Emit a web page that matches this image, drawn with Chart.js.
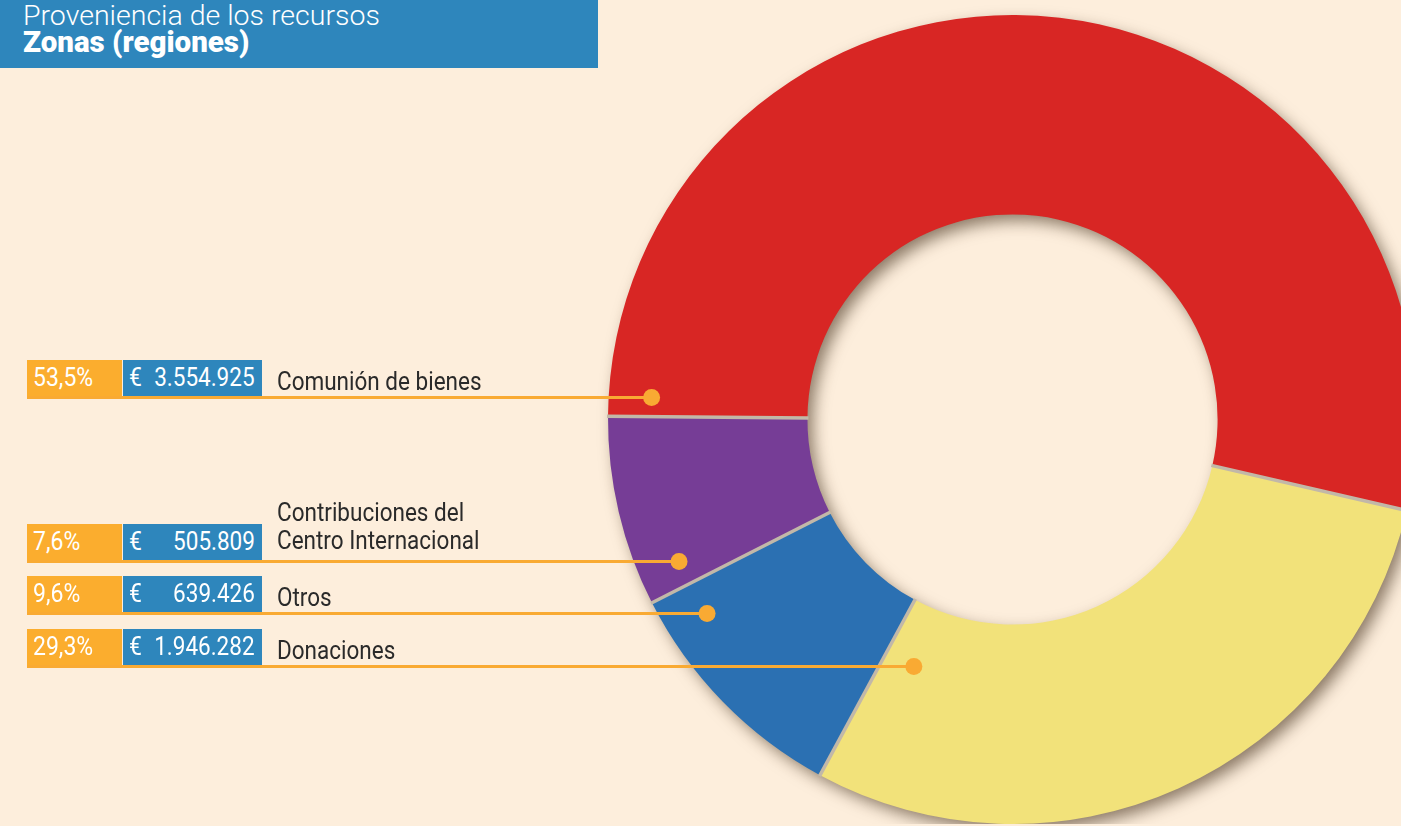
<!DOCTYPE html>
<html lang="es">
<head>
<meta charset="utf-8">
<script src="https://cdn.jsdelivr.net/npm/chart.js@4"></script>
<style>
  html, body { margin:0; padding:0; width:1401px; height:826px; overflow:hidden; background:#FDEEDC; font-family: Roboto, "Noto Sans", sans-serif; }
  #wrap { position:absolute; left:0; top:0; width:1417px; height:824px; }
  #title { position:absolute; left:0; top:0; width:598px; height:68px; background:#2E86BC; color:#fff; z-index:3; }
  #title .t1 { position:absolute; left:23px; top:2px; font-size:28.5px; line-height:28px; font-weight:300; white-space:nowrap; }
  #title .t2 { position:absolute; left:23px; top:28px; font-size:29.5px; line-height:29px; font-weight:900; white-space:nowrap; }
  .row { position:absolute; left:27px; height:36px; width:480px; z-index:3; }
  .pct { position:absolute; left:0; top:0; width:95px; height:36px; background:#FBAD2E; color:#fff; font-size:25px; line-height:36px; }
  .pct span, .val span { display:inline-block; transform:scaleX(0.92); transform-origin:left center; }
  .pct span { margin-left:6px; }
  .val { position:absolute; left:96px; top:0; width:139px; height:36px; background:#2E86BC; color:#fff; font-size:25px; line-height:36px; }
  .val .eur { position:absolute; left:6px; top:0; }
  .val .num { position:absolute; right:7px; top:0; transform:scaleX(0.9) !important; transform-origin:right center !important; }
  .lbl { position:absolute; left:250px; color:#2a2a2a; font-size:25px; line-height:28px; white-space:pre; transform:scaleX(0.9); transform-origin:left bottom; }
</style>
</head>
<body>
<div id="title"><div class="t1">Proveniencia de los recursos</div><div class="t2">Zonas (regiones)</div></div>
<div id="rows"></div>
<div id="wrap"><canvas id="c"></canvas></div>
<script>
// ---- data (display order, as listed in the reference) ----
const categories = ['Comunión de bienes', 'Contribuciones del\nCentro Internacional', 'Otros', 'Donaciones'];
const percents   = [53.5, 7.6, 9.6, 29.3];
const amounts    = [3554925, 505809, 639426, 1946282];
const colors     = ['#D82624', '#763D96', '#2B70B2', '#F2E27A'];
// callout anchor inside each slice: fraction along the slice's angle, fraction across the ring
const anchorAngleFrac  = [0.0166, 0.142, 0.842, 0.937];
const anchorRadiusFrac = [0.785, 0.789, 0.786, 0.305];

const fmtPct = v => v.toFixed(1).replace('.', ',') + '%';
const fmtAmt = v => String(v).replace(/\B(?=(\d{3})+(?!\d))/g, '.');

// chart draws clockwise; reference runs counter-clockwise from the left
const n = categories.length;
const rev = a => a.slice().reverse();

const rowsEl = document.getElementById('rows');
const rowEls = categories.map((c, i) => {
  const r = document.createElement('div');
  r.className = 'row';
  const multi = c.includes('\n');
  r.innerHTML = '<div class="pct"><span>' + fmtPct(percents[i]) + '</span></div>' +
    '<div class="val"><span class="eur">€</span><span class="num">' + fmtAmt(amounts[i]) + '</span></div>' +
    '<div class="lbl" style="bottom:' + (multi ? 5 : 0.5) + 'px">' + c + '</div>';
  rowsEl.appendChild(r);
  return r;
});

function anchorPoint(arc, af, rf) {
  const p = arc.getProps(['x','y','startAngle','endAngle','innerRadius','outerRadius'], true);
  const a = p.startAngle + (p.endAngle - p.startAngle) * af;
  const r = p.innerRadius + (p.outerRadius - p.innerRadius) * rf;
  return { x: p.x + Math.cos(a) * r, y: p.y + Math.sin(a) * r };
}

const decor = {
  id: 'decor',
  beforeDatasetsDraw(chart) {
    const arcs = chart.getDatasetMeta(0).data;
    if (!arcs.length) return;
    const p = arcs[0].getProps(['x','y','innerRadius','outerRadius'], true);
    const ctx = chart.ctx;
    ctx.save();
    ctx.shadowColor = 'rgba(60,40,20,0.6)';
    ctx.shadowBlur = 16;
    ctx.shadowOffsetX = 6;
    ctx.shadowOffsetY = 7;
    ctx.beginPath();
    ctx.arc(p.x, p.y, p.outerRadius - 1, 0, Math.PI * 2);
    ctx.arc(p.x, p.y, p.innerRadius + 1, 0, Math.PI * 2, true);
    ctx.fillStyle = '#c4b9a8';
    ctx.fill();
    ctx.restore();
  },
  afterDatasetsDraw(chart) {
    const arcs = chart.getDatasetMeta(0).data;
    const ctx = chart.ctx;
    ctx.save();
    // slice separators
    arcs.forEach(arc => {
      const p = arc.getProps(['x','y','startAngle','innerRadius','outerRadius'], true);
      const c = Math.cos(p.startAngle), s = Math.sin(p.startAngle);
      ctx.beginPath();
      ctx.moveTo(p.x + c * (p.innerRadius - 1), p.y + s * (p.innerRadius - 1));
      ctx.lineTo(p.x + c * (p.outerRadius + 1), p.y + s * (p.outerRadius + 1));
      ctx.strokeStyle = '#c2b8a8';
      ctx.lineWidth = 3.5;
      ctx.stroke();
    });
    // callout lines and dots
    categories.forEach((c, i) => {
      const arc = arcs[n - 1 - i];
      const pt = anchorPoint(arc, anchorAngleFrac[i], anchorRadiusFrac[i]);
      const y = Math.round(pt.y) + 0.5;
      ctx.beginPath();
      ctx.moveTo(27, y);
      ctx.lineTo(pt.x, y);
      ctx.strokeStyle = '#F9AA33';
      ctx.lineWidth = 3;
      ctx.stroke();
      ctx.beginPath();
      ctx.arc(pt.x, y, 8.5, 0, Math.PI * 2);
      ctx.fillStyle = '#F9AA33';
      ctx.fill();
      rowEls[i].style.top = (y - 1.5 - 36) + 'px';
    });
    ctx.restore();
  }
};

new Chart(document.getElementById('c'), {
  type: 'doughnut',
  data: {
    labels: rev(categories),
    datasets: [{
      data: rev(amounts),
      backgroundColor: rev(colors),
      borderWidth: 0,
      hoverOffset: 0
    }]
  },
  options: {
    responsive: true,
    maintainAspectRatio: false,
    animation: false,
    rotation: 103,
    cutout: '50.7%',
    layout: { padding: { left: 608, top: 15, right: 0, bottom: 0 } },
    plugins: { legend: { display: false }, tooltip: { enabled: false } },
    events: []
  },
  plugins: [decor]
});
</script>
</body>
</html>
